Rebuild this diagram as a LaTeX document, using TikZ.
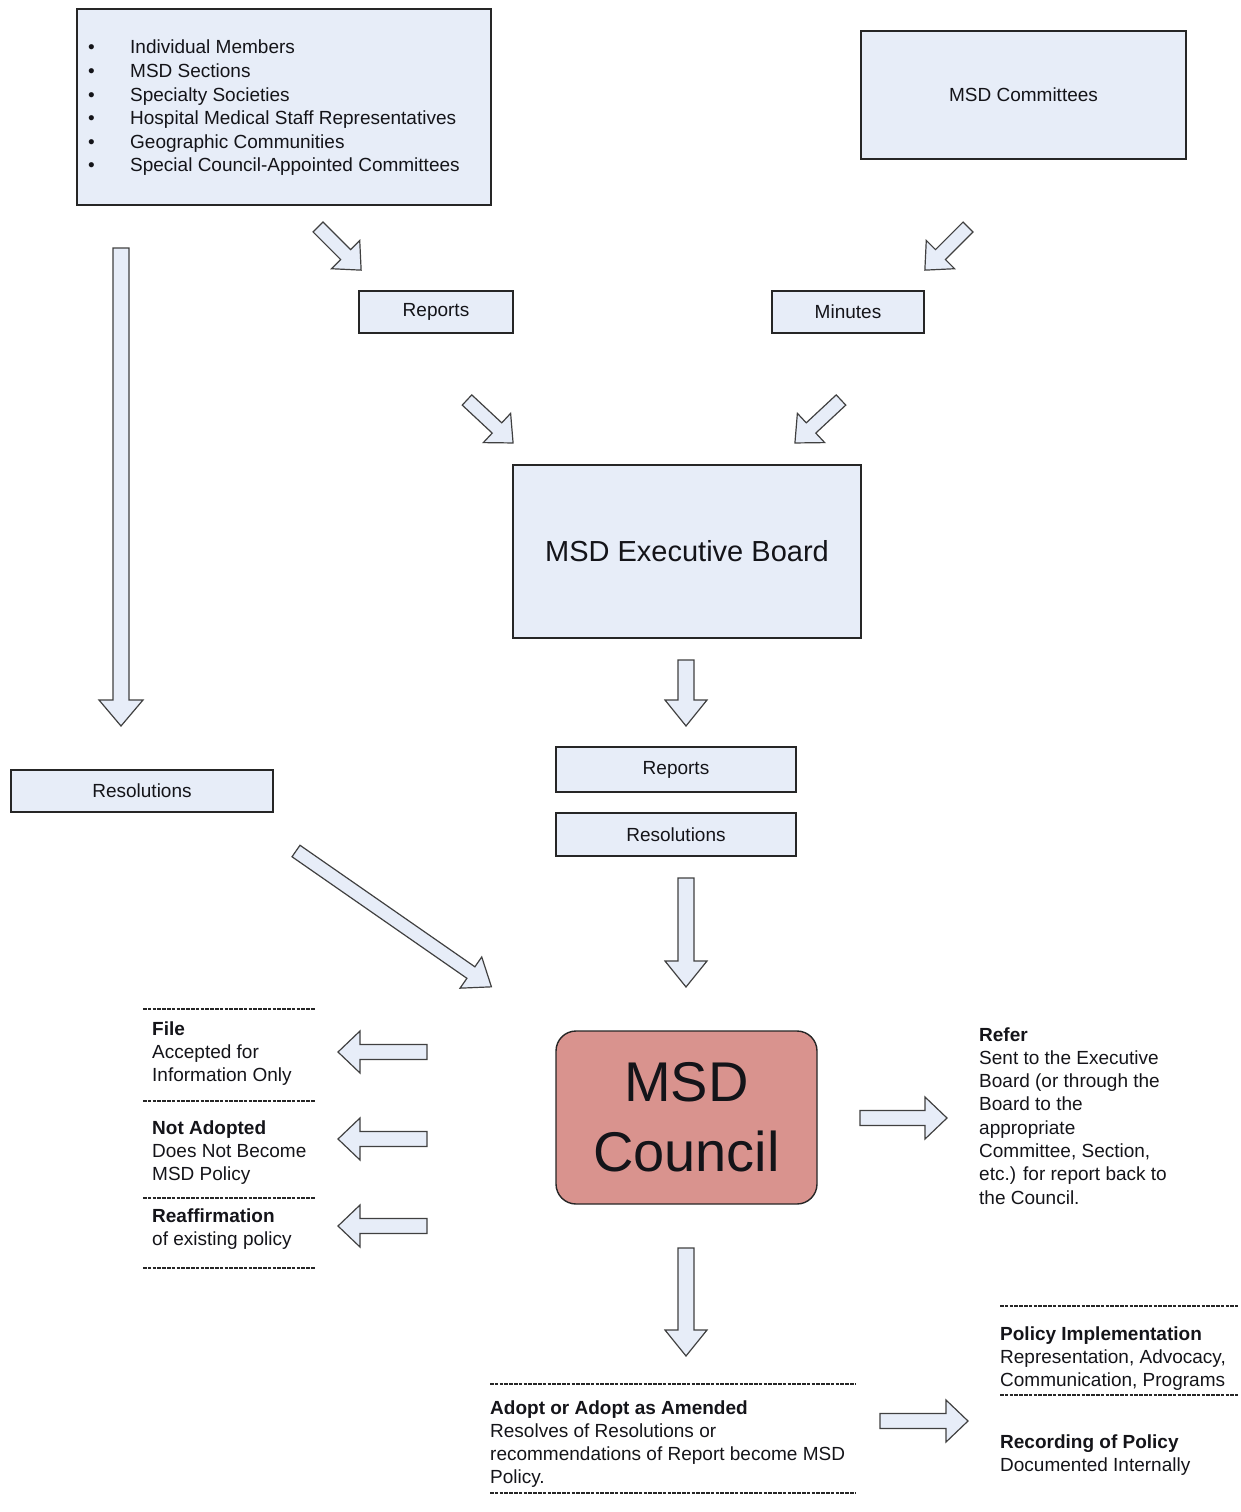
\documentclass[tikz,border=0pt]{standalone}
\usepackage{fontspec}
\setmainfont{Liberation Sans}
\definecolor{boxfill}{RGB}{231,237,248}
\definecolor{councilred}{RGB}{217,147,142}
\definecolor{inkc}{RGB}{20,20,25}
\newcommand{\blkarrow}[7]{%
  \draw[blk, shift={(#1,#2)}, rotate=#3] (0,-#5) -- ({#4-#7},-#5) -- ({#4-#7},-#6) -- (#4,0) -- ({#4-#7},#6) -- ({#4-#7},#5) -- (0,#5) -- cycle;}
\tikzset{
  box/.style={draw=black!85, line width=1.4pt, fill=boxfill, inner sep=0pt, text=inkc, font=\fontsize{19}{23.3}\selectfont},
  blk/.style={draw=black!75, line width=1.2pt, fill=boxfill, line join=miter},
  txt/.style={inner sep=0pt, anchor=base west, text=inkc, font=\fontsize{19}{23.3}\selectfont},
  dashline/.style={draw=black!85, line width=1.3pt, dash pattern=on 3.5pt off 1.3pt}
}
\begin{document}
\begin{tikzpicture}[x=1pt,y=-1pt]
\useasboundingbox (0,0) rectangle (1240,1512);

% boxes
\node[box, minimum width=414pt, minimum height=196pt] (src) at (284,107) {};
\node[txt, anchor=base west, font=\fontsize{19}{23.6}\selectfont] (srctext) at (88,54)
  {\begin{tabular}[t]{@{}p{42pt}@{}l@{}}
   \textbullet & Individual Members\\
   \textbullet & MSD Sections\\
   \textbullet & Specialty Societies\\
   \textbullet & Hospital Medical Staff Representatives\\
   \textbullet & Geographic Communities\\
   \textbullet & Special Council-Appointed Committees
   \end{tabular}};
\node[box, minimum width=325pt, minimum height=128pt] (comm) at (1023.5,95) {MSD Committees};
\node[box, minimum width=154pt, minimum height=42pt] (rep1) at (436,312) {Reports};
\node[box, minimum width=152pt, minimum height=42pt] (min) at (848,312) {Minutes};
\node[box, minimum width=348pt, minimum height=173pt, font=\fontsize{29}{34}\selectfont] (board) at (687,551.5) {MSD Executive Board};
\node[box, minimum width=240pt, minimum height=45pt] (rep2) at (676,769.5) {Reports};
\node[box, minimum width=240pt, minimum height=43pt] (res2) at (676,834.5) {Resolutions};
\node[box, minimum width=262pt, minimum height=42pt] (resL) at (142,791) {Resolutions};
\node[box, fill=councilred, rounded corners=20pt, minimum width=261pt, minimum height=173pt,
      align=center, font=\fontsize{56}{70}\selectfont] (council) at (686.5,1117.5) {MSD\\Council};

% block arrows
\blkarrow{318}{227}{-45}{61}{7}{20}{22}
\blkarrow{968}{227}{-135}{61}{7}{20}{22}
\blkarrow{467}{400}{-43}{63}{7}{20}{22}
\blkarrow{841}{400}{-137}{63}{7}{20}{22}
\blkarrow{121}{248}{-90}{478}{8}{22}{26}
\blkarrow{686}{660}{-90}{66}{8}{21}{26}
\blkarrow{686}{878}{-90}{109}{8}{21}{26}
\blkarrow{296}{851}{-34.8}{238}{7}{19}{25}
\blkarrow{427}{1052}{180}{89}{7.5}{21}{22}
\blkarrow{427}{1139}{180}{89}{7.5}{21}{22}
\blkarrow{427}{1226}{180}{89}{7.5}{21}{22}
\blkarrow{860}{1118}{0}{87}{7.5}{21}{22}
\blkarrow{686}{1248}{-90}{108}{8}{21}{26}
\blkarrow{880}{1421}{0}{88}{7.5}{21}{22}

% dashed separators
\draw[dashline] (143,1009) -- (315,1009);
\draw[dashline] (143,1101) -- (315,1101);
\draw[dashline] (143,1198) -- (315,1198);
\draw[dashline] (143,1268) -- (315,1268);
\draw[dashline] (490,1384) -- (856,1384);
\draw[dashline] (490,1493) -- (856,1493);
\draw[dashline] (1000,1306) -- (1238,1306);
\draw[dashline] (1000,1395) -- (1238,1395);

% outcome texts
\node[txt] (file) at (152,1035) {\begin{tabular}[t]{@{}l@{}}\textbf{File}\\Accepted for\\Information Only\end{tabular}};
\node[txt] (notad) at (152,1134) {\begin{tabular}[t]{@{}l@{}}\textbf{Not Adopted}\\Does Not Become\\MSD Policy\end{tabular}};
\node[txt] (reaff) at (152,1222) {\begin{tabular}[t]{@{}l@{}}\textbf{Reaffirmation}\\of existing policy\end{tabular}};
\node[txt] (refer) at (979,1041) {\begin{tabular}[t]{@{}l@{}}\textbf{Refer}\\Sent to the Executive\\Board (or through the\\Board to the\\appropriate\\Committee, Section,\\etc.) for report back to\\the Council.\end{tabular}};
\node[txt] (adopt) at (490,1414) {\begin{tabular}[t]{@{}l@{}}\textbf{Adopt or Adopt as Amended}\\Resolves of Resolutions or\\recommendations of Report become MSD\\Policy.\end{tabular}};
\node[txt] (impl) at (1000,1340) {\begin{tabular}[t]{@{}l@{}}\textbf{Policy Implementation}\\Representation, Advocacy,\\Communication, Programs\end{tabular}};
\node[txt] (record) at (1000,1448) {\begin{tabular}[t]{@{}l@{}}\textbf{Recording of Policy}\\Documented Internally\end{tabular}};
\end{tikzpicture}
\end{document}
